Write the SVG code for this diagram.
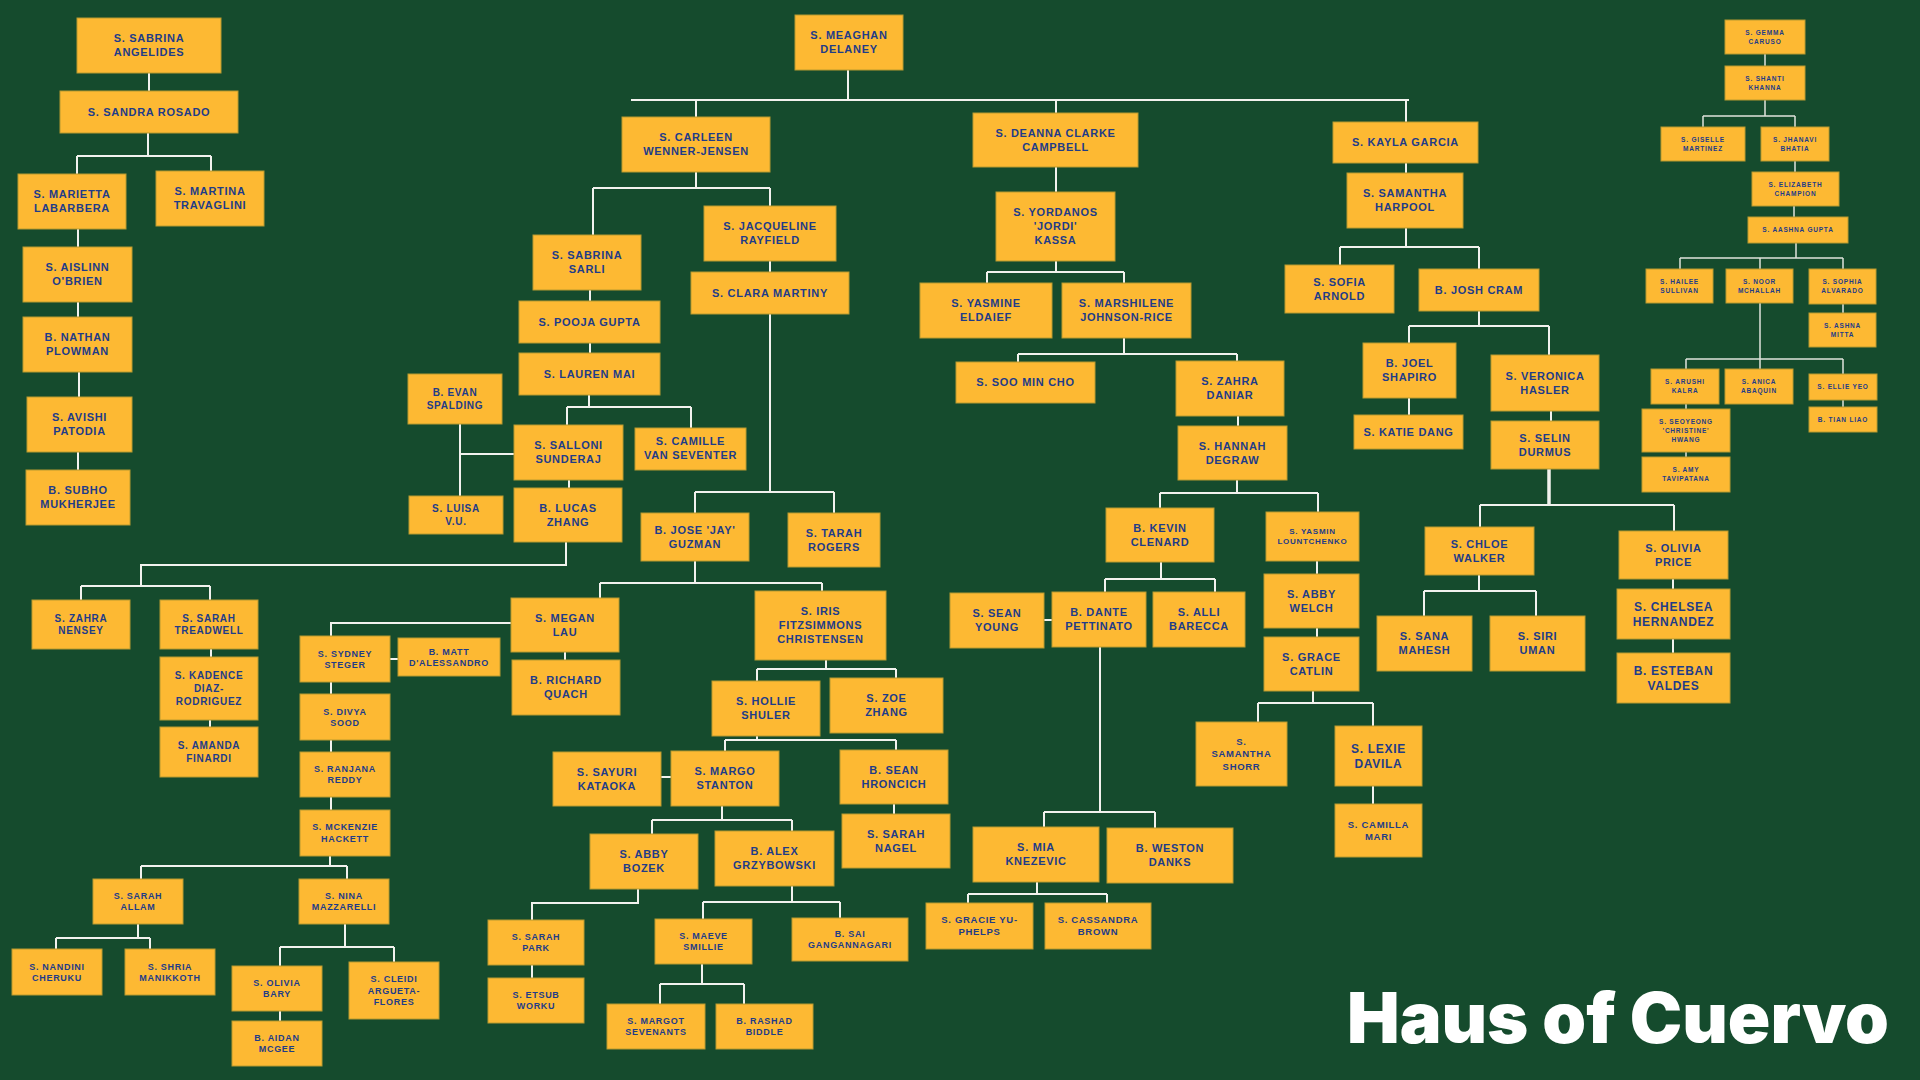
<svg xmlns="http://www.w3.org/2000/svg" width="1920" height="1080" viewBox="0 0 1920 1080">
<style>
.n rect{fill:#fdb933;stroke:#b89a30;stroke-width:1}
.n text{font-family:"Liberation Sans",Arial,sans-serif;font-weight:bold;fill:#1f3c88;text-anchor:middle;letter-spacing:0.7px}
.f12 text{font-size:12px}
.f11 text{font-size:11px}
.f10 text{font-size:10px}
.f9 text{font-size:9px}
.f95 text{font-size:9.5px}
.f8 text{font-size:8px}
.f65 text{font-size:6.5px;letter-spacing:0.8px}
.c path{fill:none;stroke:#f2f2ee;stroke-width:2}
.c path.thin{stroke-width:1.5;stroke:#dfe3dc}
.c path.thick{stroke-width:3.5}
.title{font-family:Inter,Roboto,"Liberation Sans",Arial,sans-serif;font-weight:900;font-size:70px;fill:#ffffff}
</style>
<rect width="1920" height="1080" fill="#154b2d"/>

<g id="connectors" class="c">
<path d="M149 73V91M148 133V156M77 156H211M77 156V174M211 156V171M78 229V247M78 302V317M79 372V397M78 452V470"/>
<path d="M848 70V100M631 100H1409M696 100V117M1056 100V113M1406 100V122"/>
<path d="M696 172V188M593 188H770M593 188V235M770 188V206M770 261V272M590 290V301M590 343V353"/>
<path d="M589 395V407M567 407H691M567 407V425M691 407V428M460 424V496M460 454H514M569 480V488"/>
<path d="M566 542V565H141V586M81 586H210M81 586V600M210 586V600M211 649V657M210 720V727"/>
<path d="M770 314V492M695 492H834M695 492V513M834 492V513"/>
<path d="M695 561V583M600 583H822M600 583V598M822 583V591M511 623H331V636M565 652V660M390 659H398"/>
<path d="M331 682V694M331 740V752M331 797V810M330 856V866M141 866H347M141 866V879M347 866V879"/>
<path d="M138 924V938M56 938H150M56 938V949M150 938V949M345 924V947M280 947H394M280 947V966M394 947V962M280 1011V1021"/>
<path d="M826 660V669M757 669H896M757 669V681M896 669V678M757 736V740M725 740H896M725 740V751M896 740V750M661 777H671M894 804V814"/>
<path d="M722 806V820M652 820H792M652 820V834M792 820V831M638 889V903H532V920M532 965V978"/>
<path d="M792 886V902M703 902H840M703 902V919M840 902V918M702 964V984M660 984H744M660 984V1004M744 984V1004"/>
<path d="M1056 167V192M1056 261V272M987 272H1124M987 272V283M1124 272V283M1124 338V354M1018 354H1237M1018 354V362M1237 354V361"/>
<path d="M1238 416V426M1237 480V493M1160 493H1318M1160 493V508M1318 493V512M1317 561V574M1317 628V637"/>
<path d="M1313 691V703M1258 703H1373M1258 703V722M1373 703V726M1373 786V804"/>
<path d="M1161 562V579M1105 579H1215M1105 579V592M1215 579V592M1044 620H1052"/>
<path d="M1100 647V812M1044 812H1155M1044 812V827M1155 812V828M1037 882V894M968 894H1107M968 894V903M1107 894V903"/>
<path d="M1406 163V173M1406 228V247M1340 247H1479M1340 247V265M1479 247V269M1479 311V326M1409 326H1549M1409 326V343M1549 326V355M1409 398V415M1551 411V421"/>
<path class="thick" d="M1549 469V505"/>
<path d="M1480 505H1674M1480 505V527M1674 505V531M1479 575V591M1424 591H1536M1424 591V616M1536 591V616M1673 579V589M1673 639V653"/>
<path class="thin" d="M1765 54V66M1765 100V116M1703 116H1795M1703 116V127M1795 116V127M1795 161V172M1794 206V217M1796 243V258M1680 258H1843M1680 258V269M1760 258V269M1843 258V269M1843 304V313M1760 303V359M1686 359H1843M1686 359V369M1760 359V369M1843 359V374M1843 400V407M1686 404V409M1686 452V457"/>
</g>

<!-- Left column -->
<g id="sabrina-angelides" class="n f11"><rect x="77" y="18" width="144" height="55"/><text x="149" y="42.4">S. SABRINA</text><text x="149" y="56.4">ANGELIDES</text></g>
<g id="sandra-rosado" class="n f11"><rect x="60" y="91" width="178" height="42"/><text x="149" y="115.9">S. SANDRA ROSADO</text></g>
<g id="marietta-labarbera" class="n f11"><rect x="18" y="174" width="108" height="55"/><text x="72" y="198.4">S. MARIETTA</text><text x="72" y="212.4">LABARBERA</text></g>
<g id="martina-travaglini" class="n f11"><rect x="156" y="171" width="108" height="55"/><text x="210" y="195.4">S. MARTINA</text><text x="210" y="209.4">TRAVAGLINI</text></g>
<g id="aislinn-obrien" class="n f11"><rect x="23" y="247" width="109" height="55"/><text x="77.5" y="271.4">S. AISLINN</text><text x="77.5" y="285.4">O'BRIEN</text></g>
<g id="nathan-plowman" class="n f11"><rect x="23" y="317" width="109" height="55"/><text x="77.5" y="341.4">B. NATHAN</text><text x="77.5" y="355.4">PLOWMAN</text></g>
<g id="avishi-patodia" class="n f11"><rect x="27" y="397" width="105" height="55"/><text x="79.5" y="421.4">S. AVISHI</text><text x="79.5" y="435.4">PATODIA</text></g>
<g id="subho-mukherjee" class="n f11"><rect x="26" y="470" width="104" height="55"/><text x="78" y="494.4">B. SUBHO</text><text x="78" y="508.4">MUKHERJEE</text></g>

<!-- Top -->
<g id="meaghan-delaney" class="n f11"><rect x="795" y="15" width="108" height="55"/><text x="849" y="39.4">S. MEAGHAN</text><text x="849" y="53.4">DELANEY</text></g>
<g id="carleen-wenner-jensen" class="n f11"><rect x="622" y="117" width="148" height="55"/><text x="696" y="141.4">S. CARLEEN</text><text x="696" y="155.4">WENNER-JENSEN</text></g>
<g id="deanna-clarke-campbell" class="n f11"><rect x="973" y="113" width="165" height="54"/><text x="1055.5" y="136.9">S. DEANNA CLARKE</text><text x="1055.5" y="150.9">CAMPBELL</text></g>
<g id="kayla-garcia" class="n f11"><rect x="1333" y="122" width="145" height="41"/><text x="1405.5" y="146.4">S. KAYLA GARCIA</text></g>
<g id="samantha-harpool" class="n f11"><rect x="1347" y="173" width="116" height="55"/><text x="1405" y="197.4">S. SAMANTHA</text><text x="1405" y="211.4">HARPOOL</text></g>

<!-- Deanna subtree -->
<g id="yordanos-kassa" class="n f11"><rect x="996" y="192" width="119" height="69"/><text x="1055.5" y="216.4">S. YORDANOS</text><text x="1055.5" y="230.4">'JORDI'</text><text x="1055.5" y="244.4">KASSA</text></g>
<g id="yasmine-eldaief" class="n f11"><rect x="920" y="283" width="132" height="55"/><text x="986" y="307.4">S. YASMINE</text><text x="986" y="321.4">ELDAIEF</text></g>
<g id="marshilene-johnson-rice" class="n f11"><rect x="1062" y="283" width="129" height="55"/><text x="1126.5" y="307.4">S. MARSHILENE</text><text x="1126.5" y="321.4">JOHNSON-RICE</text></g>
<g id="soo-min-cho" class="n f11"><rect x="956" y="362" width="139" height="41"/><text x="1025.5" y="386.4">S. SOO MIN CHO</text></g>
<g id="zahra-daniar" class="n f11"><rect x="1176" y="361" width="108" height="55"/><text x="1230" y="385.4">S. ZAHRA</text><text x="1230" y="399.4">DANIAR</text></g>
<g id="hannah-degraw" class="n f11"><rect x="1178" y="426" width="109" height="54"/><text x="1232.5" y="449.9">S. HANNAH</text><text x="1232.5" y="463.9">DEGRAW</text></g>
<g id="kevin-clenard" class="n f11"><rect x="1106" y="508" width="108" height="54"/><text x="1160" y="531.9">B. KEVIN</text><text x="1160" y="545.9">CLENARD</text></g>
<g id="yasmin-lountchenko" class="n f8"><rect x="1266" y="512" width="93" height="49"/><text x="1312.5" y="534.3">S. YASMIN</text><text x="1312.5" y="544.3">LOUNTCHENKO</text></g>
<g id="abby-welch" class="n f11"><rect x="1264" y="574" width="95" height="54"/><text x="1311.5" y="597.9">S. ABBY</text><text x="1311.5" y="611.9">WELCH</text></g>
<g id="grace-catlin" class="n f11"><rect x="1264" y="637" width="95" height="54"/><text x="1311.5" y="660.9">S. GRACE</text><text x="1311.5" y="674.9">CATLIN</text></g>
<g id="samantha-shorr" class="n f95"><rect x="1196" y="722" width="91" height="64"/><text x="1241.5" y="744.8">S.</text><text x="1241.5" y="757.3">SAMANTHA</text><text x="1241.5" y="769.8">SHORR</text></g>
<g id="lexie-davila" class="n f12"><rect x="1335" y="726" width="87" height="60"/><text x="1378.5" y="752.7">S. LEXIE</text><text x="1378.5" y="767.7">DAVILA</text></g>
<g id="camilla-mari" class="n f95"><rect x="1335" y="804" width="87" height="53"/><text x="1378.5" y="827.8">S. CAMILLA</text><text x="1378.5" y="839.8">MARI</text></g>
<g id="sean-young" class="n f11"><rect x="950" y="593" width="94" height="55"/><text x="997" y="617.4">S. SEAN</text><text x="997" y="631.4">YOUNG</text></g>
<g id="dante-pettinato" class="n f11"><rect x="1052" y="592" width="94" height="55"/><text x="1099" y="616.4">B. DANTE</text><text x="1099" y="630.4">PETTINATO</text></g>
<g id="alli-barecca" class="n f11"><rect x="1153" y="592" width="92" height="55"/><text x="1199" y="616.4">S. ALLI</text><text x="1199" y="630.4">BARECCA</text></g>
<g id="mia-knezevic" class="n f11"><rect x="973" y="827" width="126" height="55"/><text x="1036" y="851.4">S. MIA</text><text x="1036" y="865.4">KNEZEVIC</text></g>
<g id="weston-danks" class="n f11"><rect x="1107" y="828" width="126" height="55"/><text x="1170" y="852.4">B. WESTON</text><text x="1170" y="866.4">DANKS</text></g>
<g id="gracie-yu-phelps" class="n f95"><rect x="926" y="903" width="107" height="46"/><text x="979.5" y="923.3">S. GRACIE YU-</text><text x="979.5" y="935.3">PHELPS</text></g>
<g id="cassandra-brown" class="n f95"><rect x="1045" y="903" width="106" height="46"/><text x="1098" y="923.3">S. CASSANDRA</text><text x="1098" y="935.3">BROWN</text></g>

<!-- Kayla subtree -->
<g id="sofia-arnold" class="n f11"><rect x="1285" y="265" width="109" height="48"/><text x="1339.5" y="285.9">S. SOFIA</text><text x="1339.5" y="299.9">ARNOLD</text></g>
<g id="josh-cram" class="n f11"><rect x="1419" y="269" width="120" height="42"/><text x="1479" y="293.9">B. JOSH CRAM</text></g>
<g id="joel-shapiro" class="n f11"><rect x="1363" y="343" width="93" height="55"/><text x="1409.5" y="367.4">B. JOEL</text><text x="1409.5" y="381.4">SHAPIRO</text></g>
<g id="katie-dang" class="n f11"><rect x="1354" y="415" width="109" height="34"/><text x="1408.5" y="435.9">S. KATIE DANG</text></g>
<g id="veronica-hasler" class="n f11"><rect x="1491" y="355" width="108" height="56"/><text x="1545" y="379.9">S. VERONICA</text><text x="1545" y="393.9">HASLER</text></g>
<g id="selin-durmus" class="n f11"><rect x="1491" y="421" width="108" height="48"/><text x="1545" y="441.9">S. SELIN</text><text x="1545" y="455.9">DURMUS</text></g>
<g id="chloe-walker" class="n f11"><rect x="1425" y="527" width="109" height="48"/><text x="1479.5" y="547.9">S. CHLOE</text><text x="1479.5" y="561.9">WALKER</text></g>
<g id="sana-mahesh" class="n f11"><rect x="1377" y="616" width="95" height="55"/><text x="1424.5" y="640.4">S. SANA</text><text x="1424.5" y="654.4">MAHESH</text></g>
<g id="siri-uman" class="n f11"><rect x="1490" y="616" width="95" height="55"/><text x="1537.5" y="640.4">S. SIRI</text><text x="1537.5" y="654.4">UMAN</text></g>
<g id="olivia-price" class="n f11"><rect x="1619" y="531" width="109" height="48"/><text x="1673.5" y="551.9">S. OLIVIA</text><text x="1673.5" y="565.9">PRICE</text></g>
<g id="chelsea-hernandez" class="n f12"><rect x="1617" y="589" width="113" height="50"/><text x="1673.5" y="610.7">S. CHELSEA</text><text x="1673.5" y="625.7">HERNANDEZ</text></g>
<g id="esteban-valdes" class="n f12"><rect x="1617" y="653" width="113" height="50"/><text x="1673.5" y="674.7">B. ESTEBAN</text><text x="1673.5" y="689.7">VALDES</text></g>

<!-- Carleen subtree -->
<g id="sabrina-sarli" class="n f11"><rect x="533" y="235" width="108" height="55"/><text x="587" y="259.4">S. SABRINA</text><text x="587" y="273.4">SARLI</text></g>
<g id="jacqueline-rayfield" class="n f11"><rect x="704" y="206" width="132" height="55"/><text x="770" y="230.4">S. JACQUELINE</text><text x="770" y="244.4">RAYFIELD</text></g>
<g id="clara-martiny" class="n f11"><rect x="691" y="272" width="158" height="42"/><text x="770" y="296.9">S. CLARA MARTINY</text></g>
<g id="pooja-gupta" class="n f11"><rect x="519" y="301" width="141" height="42"/><text x="589.5" y="325.9">S. POOJA GUPTA</text></g>
<g id="lauren-mai" class="n f11"><rect x="519" y="353" width="141" height="42"/><text x="589.5" y="377.9">S. LAUREN MAI</text></g>
<g id="evan-spalding" class="n f10"><rect x="408" y="374" width="94" height="50"/><text x="455" y="396">B. EVAN</text><text x="455" y="409">SPALDING</text></g>
<g id="luisa-vu" class="n f10"><rect x="409" y="496" width="94" height="38"/><text x="456" y="512">S. LUISA</text><text x="456" y="525">V.U.</text></g>
<g id="salloni-sunderaj" class="n f11"><rect x="514" y="425" width="109" height="55"/><text x="568.5" y="449.4">S. SALLONI</text><text x="568.5" y="463.4">SUNDERAJ</text></g>
<g id="camille-van-seventer" class="n f11"><rect x="635" y="428" width="111" height="42"/><text x="690.5" y="444.9">S. CAMILLE</text><text x="690.5" y="458.9">VAN SEVENTER</text></g>
<g id="lucas-zhang" class="n f11"><rect x="514" y="488" width="108" height="54"/><text x="568" y="511.9">B. LUCAS</text><text x="568" y="525.9">ZHANG</text></g>
<g id="zahra-nensey" class="n f10"><rect x="32" y="600" width="98" height="49"/><text x="81" y="622">S. ZAHRA</text><text x="81" y="634">NENSEY</text></g>
<g id="sarah-treadwell" class="n f10"><rect x="160" y="600" width="98" height="49"/><text x="209" y="622">S. SARAH</text><text x="209" y="634">TREADWELL</text></g>
<g id="kadence-diaz-rodriguez" class="n f10"><rect x="160" y="657" width="98" height="63"/><text x="209" y="679">S. KADENCE</text><text x="209" y="692">DIAZ-</text><text x="209" y="705">RODRIGUEZ</text></g>
<g id="amanda-finardi" class="n f10"><rect x="160" y="727" width="98" height="50"/><text x="209" y="749">S. AMANDA</text><text x="209" y="762">FINARDI</text></g>

<!-- Clara subtree -->
<g id="jose-guzman" class="n f11"><rect x="641" y="513" width="108" height="48"/><text x="695" y="533.9">B. JOSE 'JAY'</text><text x="695" y="547.9">GUZMAN</text></g>
<g id="tarah-rogers" class="n f11"><rect x="788" y="513" width="92" height="54"/><text x="834" y="536.9">S. TARAH</text><text x="834" y="550.9">ROGERS</text></g>
<g id="megan-lau" class="n f11"><rect x="511" y="598" width="108" height="54"/><text x="565" y="621.9">S. MEGAN</text><text x="565" y="635.9">LAU</text></g>
<g id="richard-quach" class="n f11"><rect x="512" y="660" width="108" height="55"/><text x="566" y="684.4">B. RICHARD</text><text x="566" y="698.4">QUACH</text></g>
<g id="iris-fitzsimmons-christensen" class="n f11"><rect x="755" y="591" width="131" height="69"/><text x="820.5" y="615.4">S. IRIS</text><text x="820.5" y="629.4">FITZSIMMONS</text><text x="820.5" y="643.4">CHRISTENSEN</text></g>
<g id="hollie-shuler" class="n f11"><rect x="712" y="681" width="108" height="55"/><text x="766" y="705.4">S. HOLLIE</text><text x="766" y="719.4">SHULER</text></g>
<g id="zoe-zhang" class="n f11"><rect x="830" y="678" width="113" height="55"/><text x="886.5" y="702.4">S. ZOE</text><text x="886.5" y="716.4">ZHANG</text></g>
<g id="sayuri-kataoka" class="n f11"><rect x="553" y="752" width="108" height="54"/><text x="607" y="775.9">S. SAYURI</text><text x="607" y="789.9">KATAOKA</text></g>
<g id="margo-stanton" class="n f11"><rect x="671" y="751" width="108" height="55"/><text x="725" y="775.4">S. MARGO</text><text x="725" y="789.4">STANTON</text></g>
<g id="sean-hroncich" class="n f11"><rect x="840" y="750" width="108" height="54"/><text x="894" y="773.9">B. SEAN</text><text x="894" y="787.9">HRONCICH</text></g>
<g id="sarah-nagel" class="n f11"><rect x="842" y="814" width="108" height="54"/><text x="896" y="837.9">S. SARAH</text><text x="896" y="851.9">NAGEL</text></g>
<g id="abby-bozek" class="n f11"><rect x="590" y="834" width="108" height="55"/><text x="644" y="858.4">S. ABBY</text><text x="644" y="872.4">BOZEK</text></g>
<g id="alex-grzybowski" class="n f11"><rect x="715" y="831" width="119" height="55"/><text x="774.5" y="855.4">B. ALEX</text><text x="774.5" y="869.4">GRZYBOWSKI</text></g>
<g id="sarah-park" class="n f9"><rect x="488" y="920" width="96" height="45"/><text x="536" y="940.2">S. SARAH</text><text x="536" y="951.2">PARK</text></g>
<g id="etsub-worku" class="n f9"><rect x="488" y="978" width="96" height="45"/><text x="536" y="998.2">S. ETSUB</text><text x="536" y="1009.2">WORKU</text></g>
<g id="maeve-smillie" class="n f9"><rect x="655" y="919" width="97" height="45"/><text x="703.5" y="939.2">S. MAEVE</text><text x="703.5" y="950.2">SMILLIE</text></g>
<g id="sai-gangannagari" class="n f9"><rect x="792" y="918" width="116" height="43"/><text x="850" y="937.2">B. SAI</text><text x="850" y="948.2">GANGANNAGARI</text></g>
<g id="margot-sevenants" class="n f9"><rect x="607" y="1004" width="98" height="45"/><text x="656" y="1024.2">S. MARGOT</text><text x="656" y="1035.2">SEVENANTS</text></g>
<g id="rashad-biddle" class="n f9"><rect x="716" y="1004" width="97" height="45"/><text x="764.5" y="1024.2">B. RASHAD</text><text x="764.5" y="1035.2">BIDDLE</text></g>

<!-- Sydney subtree -->
<g id="sydney-steger" class="n f9"><rect x="300" y="636" width="90" height="46"/><text x="345" y="656.7">S. SYDNEY</text><text x="345" y="667.7">STEGER</text></g>
<g id="matt-dalessandro" class="n f9"><rect x="398" y="638" width="102" height="38"/><text x="449" y="654.7">B. MATT</text><text x="449" y="665.7">D'ALESSANDRO</text></g>
<g id="divya-sood" class="n f9"><rect x="300" y="694" width="90" height="46"/><text x="345" y="714.7">S. DIVYA</text><text x="345" y="725.7">SOOD</text></g>
<g id="ranjana-reddy" class="n f9"><rect x="300" y="752" width="90" height="45"/><text x="345" y="772.2">S. RANJANA</text><text x="345" y="783.2">REDDY</text></g>
<g id="mckenzie-hackett" class="n f9"><rect x="300" y="810" width="90" height="46"/><text x="345" y="830.2">S. MCKENZIE</text><text x="345" y="842.2">HACKETT</text></g>
<g id="sarah-allam" class="n f9"><rect x="93" y="879" width="90" height="45"/><text x="138" y="899.2">S. SARAH</text><text x="138" y="910.2">ALLAM</text></g>
<g id="nina-mazzarelli" class="n f9"><rect x="299" y="879" width="90" height="45"/><text x="344" y="899.2">S. NINA</text><text x="344" y="910.2">MAZZARELLI</text></g>
<g id="nandini-cheruku" class="n f9"><rect x="12" y="949" width="90" height="46"/><text x="57" y="969.7">S. NANDINI</text><text x="57" y="980.7">CHERUKU</text></g>
<g id="shria-manikkoth" class="n f9"><rect x="125" y="949" width="90" height="46"/><text x="170" y="969.7">S. SHRIA</text><text x="170" y="980.7">MANIKKOTH</text></g>
<g id="olivia-bary" class="n f9"><rect x="232" y="966" width="90" height="45"/><text x="277" y="986.2">S. OLIVIA</text><text x="277" y="997.2">BARY</text></g>
<g id="aidan-mcgee" class="n f9"><rect x="232" y="1021" width="90" height="45"/><text x="277" y="1041.2">B. AIDAN</text><text x="277" y="1052.2">MCGEE</text></g>
<g id="cleidi-argueta-flores" class="n f9"><rect x="349" y="962" width="90" height="57"/><text x="394" y="982.2">S. CLEIDI</text><text x="394" y="993.7">ARGUETA-</text><text x="394" y="1005.2">FLORES</text></g>

<!-- Right cluster -->
<g id="gemma-caruso" class="n f65"><rect x="1725" y="20" width="80" height="34"/><text x="1765" y="34.8">S. GEMMA</text><text x="1765" y="43.8">CARUSO</text></g>
<g id="shanti-khanna" class="n f65"><rect x="1725" y="66" width="80" height="34"/><text x="1765" y="80.8">S. SHANTI</text><text x="1765" y="89.8">KHANNA</text></g>
<g id="giselle-martinez" class="n f65"><rect x="1661" y="127" width="84" height="34"/><text x="1703" y="141.8">S. GISELLE</text><text x="1703" y="150.8">MARTINEZ</text></g>
<g id="jhanavi-bhatia" class="n f65"><rect x="1761" y="127" width="68" height="34"/><text x="1795" y="141.8">S. JHANAVI</text><text x="1795" y="150.8">BHATIA</text></g>
<g id="elizabeth-champion" class="n f65"><rect x="1752" y="172" width="87" height="34"/><text x="1795.5" y="186.8">S. ELIZABETH</text><text x="1795.5" y="195.8">CHAMPION</text></g>
<g id="aashna-gupta" class="n f65"><rect x="1748" y="217" width="100" height="26"/><text x="1798" y="232.3">S. AASHNA GUPTA</text></g>
<g id="hailee-sullivan" class="n f65"><rect x="1646" y="269" width="67" height="34"/><text x="1679.5" y="283.8">S. HAILEE</text><text x="1679.5" y="292.8">SULLIVAN</text></g>
<g id="noor-mchallah" class="n f65"><rect x="1726" y="269" width="67" height="34"/><text x="1759.5" y="283.8">S. NOOR</text><text x="1759.5" y="292.8">MCHALLAH</text></g>
<g id="sophia-alvarado" class="n f65"><rect x="1809" y="269" width="67" height="35"/><text x="1842.5" y="284.3">S. SOPHIA</text><text x="1842.5" y="293.3">ALVARADO</text></g>
<g id="ashna-mitta" class="n f65"><rect x="1809" y="313" width="67" height="34"/><text x="1842.5" y="327.8">S. ASHNA</text><text x="1842.5" y="336.8">MITTA</text></g>
<g id="arushi-kalra" class="n f65"><rect x="1651" y="369" width="68" height="35"/><text x="1685" y="384.3">S. ARUSHI</text><text x="1685" y="393.3">KALRA</text></g>
<g id="anica-abaquin" class="n f65"><rect x="1725" y="369" width="68" height="35"/><text x="1759" y="384.3">S. ANICA</text><text x="1759" y="393.3">ABAQUIN</text></g>
<g id="ellie-yeo" class="n f65"><rect x="1809" y="374" width="68" height="26"/><text x="1843" y="389.3">S. ELLIE YEO</text></g>
<g id="tian-liao" class="n f65"><rect x="1809" y="407" width="68" height="25"/><text x="1843" y="421.8">B. TIAN LIAO</text></g>
<g id="seoyeong-hwang" class="n f65"><rect x="1642" y="409" width="88" height="43"/><text x="1686" y="423.8">S. SEOYEONG</text><text x="1686" y="432.8">'CHRISTINE'</text><text x="1686" y="441.8">HWANG</text></g>
<g id="amy-tavipatana" class="n f65"><rect x="1642" y="457" width="88" height="35"/><text x="1686" y="472.3">S. AMY</text><text x="1686" y="481.3">TAVIPATANA</text></g>

<text class="title" x="1347" y="1043" textLength="542" lengthAdjust="spacingAndGlyphs">Haus of Cuervo</text>
</svg>
